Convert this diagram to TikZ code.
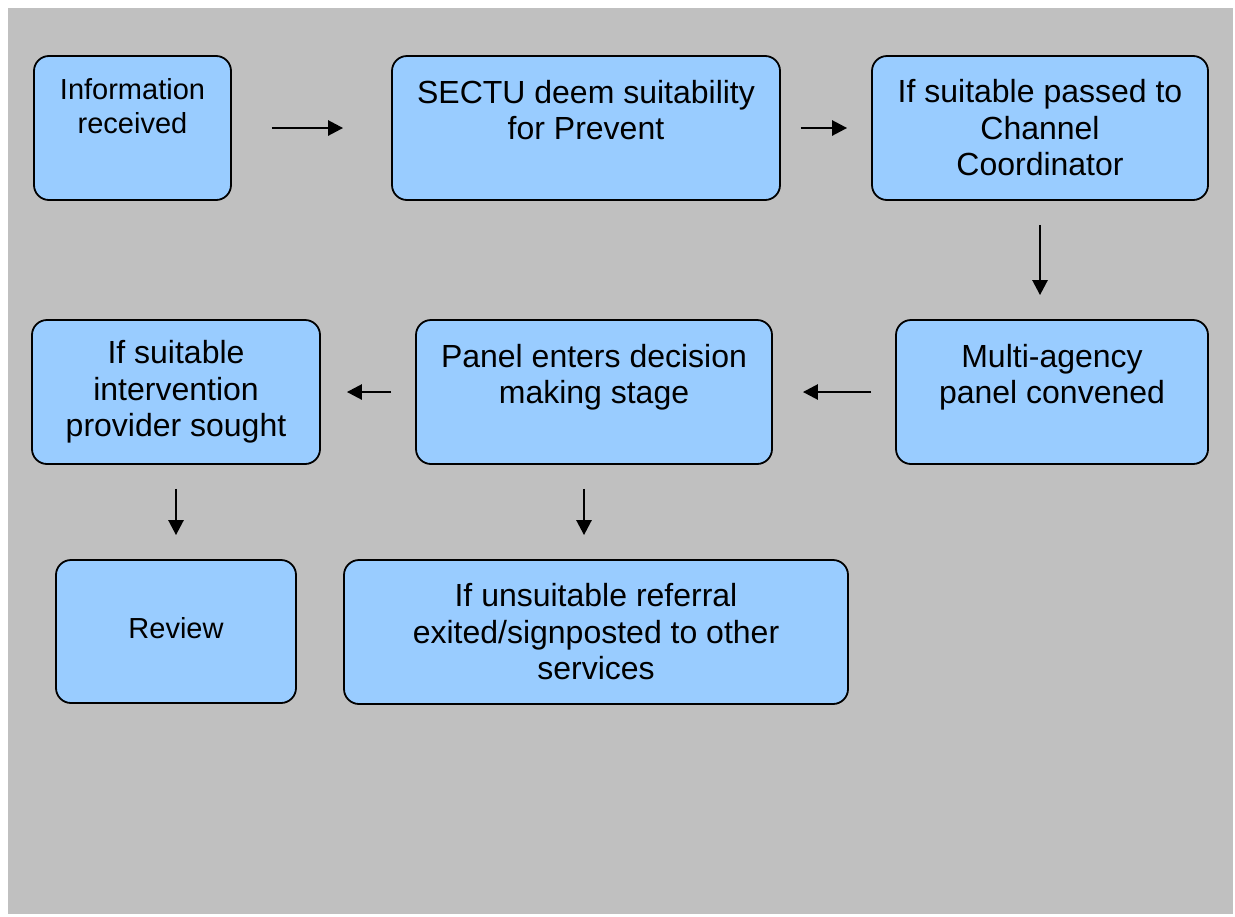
\documentclass[tikz,border=0pt]{standalone}
\usepackage{fontspec}
\setmainfont{Liberation Sans}
\usetikzlibrary{arrows.meta,positioning}
\definecolor{stagefill}{HTML}{99CCFF}
\definecolor{backdrop}{HTML}{C0C0C0}
\tikzset{
  stage/.style={draw=black, line width=0.9pt, rounded corners=7.5pt, fill=stagefill,
                inner sep=0pt, minimum height=72pt, align=center,
                font=\fontsize{16pt}{18.25pt}\selectfont},
  flow/.style={-{Triangle[length=7.5pt,width=7.5pt]}, line width=1.3pt}
}

\begin{document}
\begin{tikzpicture}[x=0.5pt, y=0.5pt, yscale=-1]
  \useasboundingbox (0,0) rectangle (1235,916);
  \fill[backdrop] (8,8) rectangle (1233,914);

  % top row
  \node[stage, minimum width=98.5pt, font=\fontsize{14.5pt}{17pt}\selectfont]
    (info) at (132.5,128) {Information\\received\\[5pt]~};
  \node[stage, minimum width=194pt] (sectu) at (586,128)
    {SECTU deem suitability\\for Prevent\\~};
  \node[stage, minimum width=168pt] (channel) at (1040,128)
    {If suitable passed to\\Channel\\Coordinator};

  % middle row
  \node[stage, minimum width=156pt] (multi) at (1052,392)
    {Multi-agency\\panel convened\\~};
  \node[stage, minimum width=178pt] (panel) at (594,392)
    {Panel enters decision\\making stage\\~};
  \node[stage, minimum width=144pt] (provider) at (176,392)
    {If suitable\\intervention\\provider sought};

  % bottom row
  \node[stage, minimum width=120pt, minimum height=71.5pt,
        font=\fontsize{14.5pt}{17pt}\selectfont, text depth=4pt]
    (review) at (176,631.5) {Review};
  \node[stage, minimum width=252pt] (exit) at (596,632)
    {If unsuitable referral\\exited/signposted to other\\services};

  \draw[flow, shorten <=20pt, shorten >=24pt] (info) -- (sectu);
  \draw[flow, shorten <=10pt, shorten >=12pt] (sectu) -- (channel);
  \draw[flow, shorten <=12pt, shorten >=12pt] (channel.south) -- (channel.south |- multi.north);
  \draw[flow, shorten <=12pt, shorten >=15pt] (multi) -- (panel);
  \draw[flow, shorten <=12pt, shorten >=13pt] (panel) -- (provider);
  \draw[flow, shorten <=12pt, shorten >=12pt] (provider) -- (review);
  \draw[flow, shorten <=12pt, shorten >=12pt] ([xshift=-5pt]panel.south) -- ([xshift=-6pt]exit.north);
\end{tikzpicture}
\end{document}
